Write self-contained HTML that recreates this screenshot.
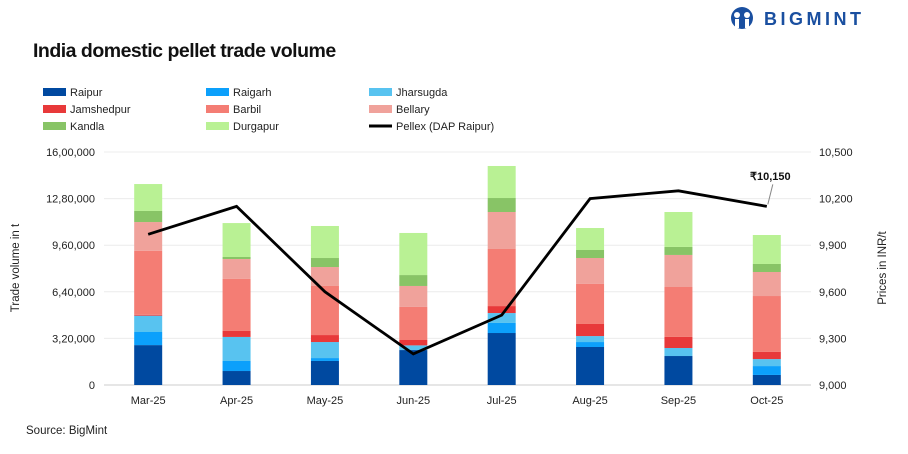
<!DOCTYPE html>
<html><head><meta charset="utf-8"><style>
html,body{margin:0;padding:0;background:#fff;width:908px;height:454px;overflow:hidden;font-family:"Liberation Sans",Arial,sans-serif}
svg text{font-family:"Liberation Sans",Arial,sans-serif}
</style></head><body>
<svg id="c" width="908" height="454" xmlns="http://www.w3.org/2000/svg">
<g>
<circle cx="742" cy="18" r="11" fill="#1a4fa0"/>
<circle cx="737" cy="15" r="3" fill="#fff"/><circle cx="747" cy="15" r="3" fill="#fff"/>
<rect x="735" y="19" width="4" height="9" fill="#fff"/><rect x="745" y="19" width="4" height="9" fill="#fff"/>
<text x="764" y="25" font-size="18" font-weight="bold" fill="#1a4fa0" letter-spacing="3.5">BIGMINT</text>
</g>
<text x="33" y="57" font-size="19.5" font-weight="bold" fill="#111" letter-spacing="-0.5">India domestic pellet trade volume</text>
<g id="legend"></g>
<g id="grid"></g>
<g id="bars"></g>
<g id="line"></g>
<g id="axes"></g>
<text transform="translate(19,268) rotate(-90)" text-anchor="middle" font-size="11.5" fill="#222">Trade volume in t</text>
<text transform="translate(886,268) rotate(-90)" text-anchor="middle" font-size="11.5" fill="#222">Prices in INR/t</text>
<text x="26" y="434" font-size="11.5" fill="#222">Source: BigMint</text>
</svg>
<script>
const categories=["Mar-25","Apr-25","May-25","Jun-25","Jul-25","Aug-25","Sep-25","Oct-25"];
const seriesNames=["Raipur","Raigarh","Jharsugda","Jamshedpur","Barbil","Bellary","Kandla","Durgapur"];
const raipur=[274000,96000,165000,240000,357000,261000,199000,69000];
const raigarh=[90000,69000,20000,0,69000,34000,0,61000];
const jharsugda=[112000,165000,110000,32000,68000,41000,55000,48000];
const jamshedpur=[6000,41000,48000,37000,48000,83000,76000,49000];
const barbil=[440000,359000,337000,227000,392000,275000,343000,384000];
const bellary=[197000,135000,130000,144000,254000,178000,220000,165000];
const kandla=[76000,14000,62000,75000,96000,55000,55000,55000];
const durgapur=[185000,233000,220000,289000,220000,151000,240000,199000];
const pellex=[9970,10150,9600,9200,9450,10200,10250,10150];
const leftTicks=[0,320000,640000,960000,1280000,1600000];
const leftTickLabels=["0","3,20,000","6,40,000","9,60,000","12,80,000","16,00,000"];
const rightTicks=[9000,9300,9600,9900,10200,10500];
const rightTickLabels=["9,000","9,300","9,600","9,900","10,200","10,500"];
const colors=["#0049a0","#0ca0fb","#58c3f0","#e8393a","#f47d74","#f0a29b","#88c466","#b9f194"];
const series=[raipur,raigarh,jharsugda,jamshedpur,barbil,bellary,kandla,durgapur];
const NS="http://www.w3.org/2000/svg";
const X0=104,X1=811,Y0=385,Y1=152;
const band=(X1-X0)/categories.length;
const xc=i=>X0+band*(i+0.5);
const yL=v=>Y0-(v-leftTicks[0])/(leftTicks[leftTicks.length-1]-leftTicks[0])*(Y0-Y1);
const yR=v=>Y0-(v-rightTicks[0])/(rightTicks[rightTicks.length-1]-rightTicks[0])*(Y0-Y1);
function mk(tag,attrs,parent,txt){const e=document.createElementNS(NS,tag);for(const k in attrs)e.setAttribute(k,attrs[k]);if(txt!==undefined)e.textContent=txt;document.getElementById(parent).appendChild(e);return e;}
leftTicks.forEach((t,i)=>{
 const g=mk("line",{x1:X0,x2:X1,y1:yL(t),y2:yL(t),stroke:i===0?"#ccc":"#ececec","stroke-width":1},"grid");
 
 
 const l=mk("text",{x:95,y:yL(t)+4,"text-anchor":"end","font-size":11,fill:"#222"},"axes",leftTickLabels[i]);
 
 
});
rightTicks.forEach((t,i)=>{
 const l=mk("text",{x:819,y:yR(t)+4,"font-size":11,fill:"#222"},"axes",rightTickLabels[i]);
 
 
});
categories.forEach((c,i)=>{
 const l=mk("text",{x:xc(i),y:404,"text-anchor":"middle","font-size":11,fill:"#222"},"axes",c);
 
 
 let cum=0;
 series.forEach((s,k)=>{
  const v=s[i];if(v<=0)return;
  const r=mk("rect",{x:xc(i)-14,width:28,y:yL(cum+v),height:yL(cum)-yL(cum+v),fill:colors[k]},"bars");
  
  
  cum+=v;
 });
});
const pts=pellex.map((v,i)=>xc(i)+","+yR(v)).join(" ");
const pl=mk("polyline",{points:pts,fill:"none",stroke:"#000","stroke-width":2.8,"stroke-linejoin":"miter"},"line");


const li=pellex.length-1;
const ld=mk("line",{x1:xc(li)+1,y1:yR(pellex[li])-2,x2:xc(li)+6,y2:yR(pellex[li])-22,stroke:"#888","stroke-width":1},"line");


const dl=mk("text",{x:750,y:180,"font-size":11,"font-weight":"bold",fill:"#111"},"line","₹10,150");


const legX=[43,206,369],legY=[92,109,126];
seriesNames.concat(["Pellex (DAP Raipur)"]).forEach((n,i)=>{
 const cx=legX[i%3],cy=legY[Math.floor(i/3)];
 if(i<8){
  const s=mk("rect",{x:cx,y:cy-4,width:23,height:8,fill:colors[i]},"legend");
  
  
 }else{
  const s=mk("line",{x1:cx,x2:cx+23,y1:cy,y2:cy,stroke:"#000","stroke-width":3},"legend");
  
  
 }
 const t=mk("text",{x:cx+27,y:cy+4,"font-size":11,fill:"#222"},"legend",n);
 
 
});
</script>
</body></html>
